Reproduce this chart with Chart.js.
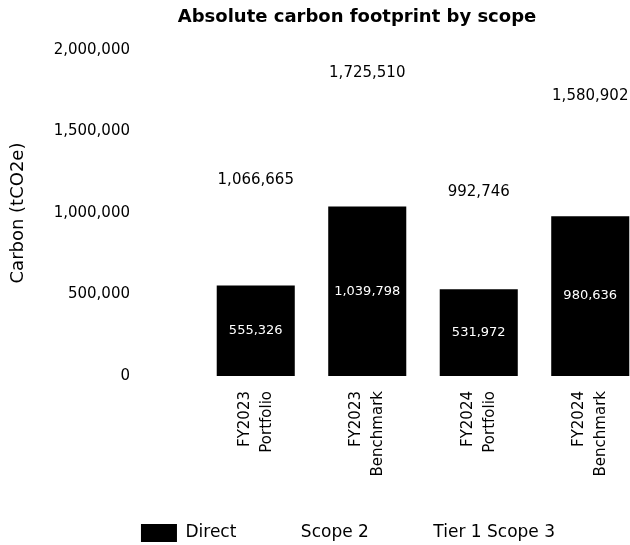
<!DOCTYPE html>
<html>
<head>
<meta charset="utf-8">
<script src="https://cdn.jsdelivr.net/npm/chart.js@4/dist/chart.umd.min.js"></script>
<style>
  html, body { margin: 0; padding: 0; background: #fff; overflow: hidden; width: 630px; height: 545px; }
  #wrap { width: 714px; height: 545px; }
  canvas { display: block; }
</style>
</head>
<body>
<div id="wrap"><canvas id="c" width="714" height="545"></canvas></div>
<script>
const categories = [["FY2023", "Portfolio"], ["FY2023", "Benchmark"], ["FY2024", "Portfolio"], ["FY2024", "Benchmark"]];
const directValues = [555326, 1039798, 531972, 980636];
const scope2Values = [98000, 170000, 88000, 155000];
const tier1Scope3Values = [413339, 515712, 372774, 445266];
const yTicks = [0, 500000, 1000000, 1500000, 2000000];

const FONT = "'DejaVu Sans', sans-serif";
const fmt = v => Number(v).toLocaleString('en-US');

const labelPlugin = {
  id: 'valueLabels',
  afterLayout(chart) {
    if (chart.legend) {
      chart.legend.left -= 9;
      chart.legend.right -= 9;
    }
  },
  afterDatasetsDraw(chart) {
    const ctx = chart.ctx;
    ctx.save();
    ctx.textAlign = 'center';
    ctx.textBaseline = 'middle';
    const direct = chart.getDatasetMeta(0);
    ctx.fillStyle = '#ffffff';
    ctx.font = "13px " + FONT;
    direct.data.forEach((bar, i) => {
      const p = bar.getCenterPoint();
      ctx.fillText(fmt(chart.data.datasets[0].data[i]), p.x, p.y);
    });
    const last = chart.getDatasetMeta(chart.data.datasets.length - 1);
    ctx.fillStyle = '#000000';
    ctx.font = "15px " + FONT;
    last.data.forEach((bar, i) => {
      const total = chart.data.datasets.reduce((s, d) => s + d.data[i], 0);
      ctx.fillText(fmt(total), bar.x, bar.y - 22);
    });
    ctx.restore();
  }
};

new Chart(document.getElementById('c'), {
  type: 'bar',
  data: {
    labels: categories,
    datasets: [
      { label: 'Direct', data: directValues, backgroundColor: '#000000' },
      { label: 'Scope 2', data: scope2Values, backgroundColor: '#ffffff' },
      { label: 'Tier 1 Scope 3', data: tier1Scope3Values, backgroundColor: '#ffffff' }
    ]
  },
  options: {
    responsive: false,
    animation: false,
    devicePixelRatio: 1,
    datasets: { bar: { categoryPercentage: 1.0, barPercentage: 0.7 } },
    layout: { padding: { top: 0, bottom: -7, left: 0, right: 0 } },
    plugins: {
      title: {
        display: true,
        text: 'Absolute carbon footprint by scope',
        color: '#000',
        font: { family: FONT, size: 18, weight: 'bold' },
        padding: { top: 7, bottom: 21.4 }
      },
      legend: {
        position: 'bottom',
        labels: {
          color: '#000',
          font: { family: FONT, size: 17 },
          boxWidth: 36,
          boxHeight: 18,
          padding: 20
        }
      },
      tooltip: { enabled: false }
    },
    scales: {
      x: {
        stacked: true,
        grid: { display: false },
        border: { display: false },
        ticks: {
          color: '#000',
          font: { family: FONT, size: 15, lineHeight: 1.47 },
          minRotation: 90,
          maxRotation: 90,
          padding: 7,
          labelOffset: -11
        },
        afterFit(scale) { scale.height = 128; }
      },
      y: {
        stacked: true,
        weight: 10,
        min: 0,
        max: 2000000,
        grid: { display: false },
        border: { display: false },
        afterBuildTicks(scale) { scale.ticks = yTicks.map(v => ({ value: v })); },
        ticks: {
          color: '#000',
          font: { family: FONT, size: 15 },
          padding: 0,
          callback: v => fmt(v)
        },
        title: {
          display: true,
          text: 'Carbon (tCO2e)',
          color: '#000',
          font: { family: FONT, size: 18 },
          padding: { top: 8, bottom: 0 }
        },
        afterFit(scale) { scale.width = 138; }
      },
      ySpacer: {
        position: 'left',
        weight: 0,
        display: true,
        grid: { display: false },
        border: { display: false },
        ticks: { display: false },
        afterFit(scale) { scale.width = 62; }
      },
      yRight: {
        position: 'right',
        display: true,
        grid: { display: false },
        border: { display: false },
        ticks: { display: false },
        afterFit(scale) { scale.width = 68; }
      }
    }
  },
  plugins: [labelPlugin]
});
</script>
</body>
</html>
